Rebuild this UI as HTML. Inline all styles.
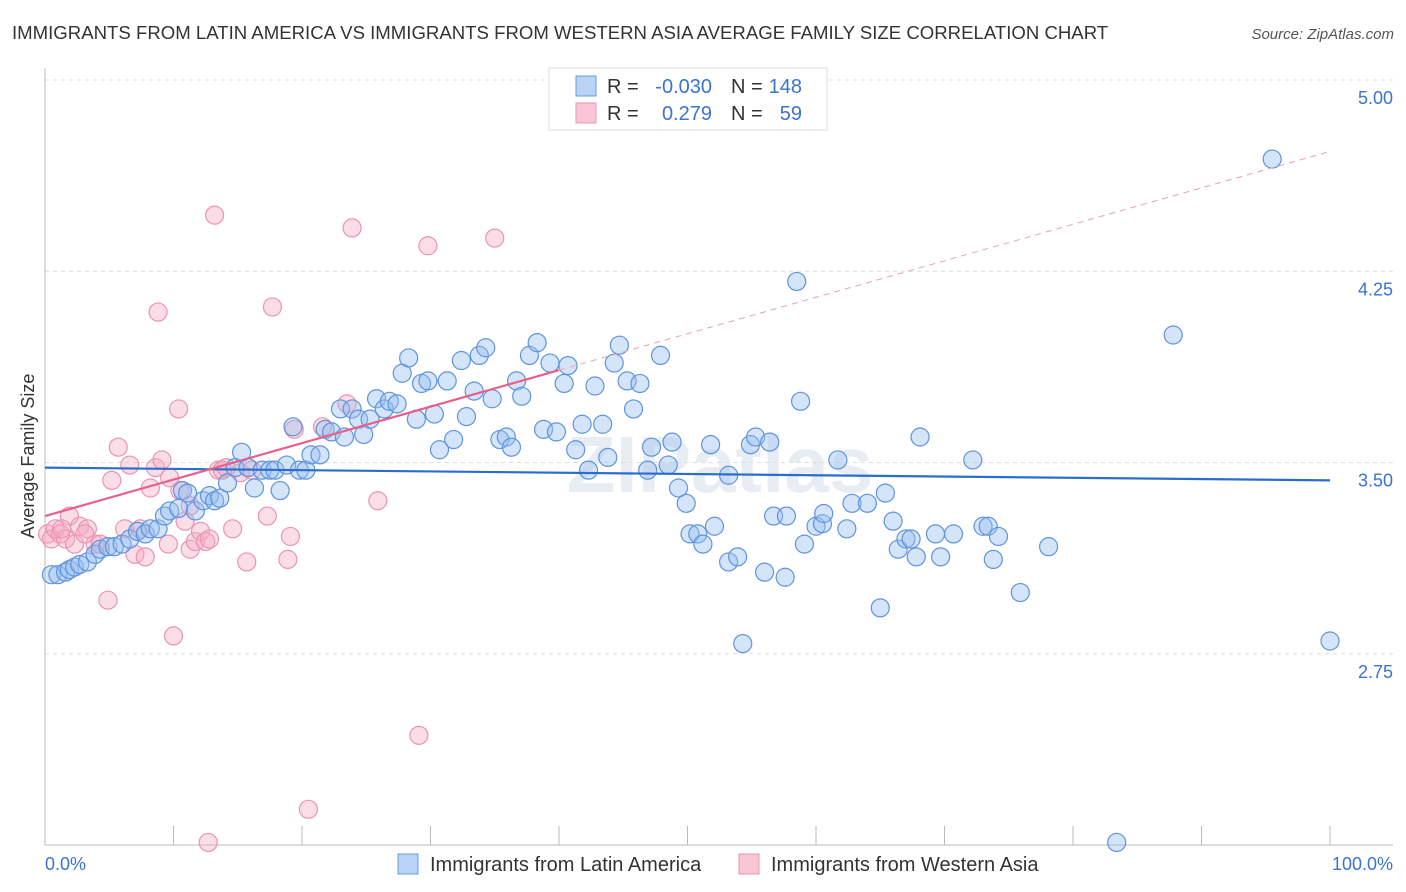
<!DOCTYPE html>
<html><head><meta charset="utf-8"><style>
body{margin:0;background:#fff;font-family:"Liberation Sans",sans-serif}
svg{display:block}
</style></head><body>
<svg id="chart" width="1406" height="892" xmlns="http://www.w3.org/2000/svg" font-family="Liberation Sans, sans-serif">
<text x="12" y="39" font-size="18.6" fill="#333">IMMIGRANTS FROM LATIN AMERICA VS IMMIGRANTS FROM WESTERN ASIA AVERAGE FAMILY SIZE CORRELATION CHART</text>
<text x="1394" y="39" font-size="15" font-style="italic" fill="#555" text-anchor="end">Source: ZipAtlas.com</text>
<text x="720" y="492" font-size="80" font-weight="bold" fill="#e8edf4" text-anchor="middle">ZIPatlas</text>
<g id="grid"></g>
<g id="axes"></g>
<g id="points"></g>
<g id="lines"></g>
<text transform="translate(34,456) rotate(-90)" font-size="18" fill="#333" text-anchor="middle">Average Family Size</text>
<text x="45" y="870" font-size="18" fill="#3b73d1">0.0%</text>
<text x="1393" y="870" font-size="18" fill="#3b73d1" text-anchor="end">100.0%</text>
<g>
<rect x="549" y="68" width="278" height="62" fill="#fff" stroke="#ddd"/>
<rect x="576" y="76" width="20" height="20" fill="#b8d3f5" stroke="#6a9be0"/>
<rect x="576" y="103" width="20" height="20" fill="#f9c6d4" stroke="#ec95b0"/>
<text x="607" y="93" font-size="20" fill="#333">R =</text>
<text x="712" y="93" font-size="20" fill="#3b73d1" text-anchor="end">-0.030</text>
<text x="731" y="93" font-size="20" fill="#333">N =</text>
<text x="802" y="93" font-size="20" fill="#3b73d1" text-anchor="end">148</text>
<text x="607" y="120" font-size="20" fill="#333">R =</text>
<text x="712" y="120" font-size="20" fill="#3b73d1" text-anchor="end">0.279</text>
<text x="731" y="120" font-size="20" fill="#333">N =</text>
<text x="802" y="120" font-size="20" fill="#3b73d1" text-anchor="end">59</text>
</g>
<g>
<rect x="398" y="854" width="20" height="20" fill="#b8d3f5" stroke="#6a9be0"/>
<text x="430" y="871" font-size="20" fill="#333">Immigrants from Latin America</text>
<rect x="739" y="854" width="20" height="20" fill="#f9c6d4" stroke="#ec95b0"/>
<text x="771" y="871" font-size="20" fill="#333">Immigrants from Western Asia</text>
</g>
</svg>
<script>
const yTicks=[5.00,4.25,3.50,2.75];
const yTickLabels=["5.00","4.25","3.50","2.75"];
const xTicks=[0,10,20,30,40,50,60,70,80,90,100];
const blueX=[0.5,1.0,1.6,1.9,2.3,2.7,3.3,3.9,4.3,4.9,5.4,6.0,6.6,7.2,7.8,8.2,8.8,9.3,9.7,10.4,10.7,11.1,11.7,12.3,12.8,13.2,13.6,14.2,14.8,15.3,15.8,16.3,16.9,17.5,17.9,18.3,18.8,19.3,19.8,20.3,20.7,21.4,21.8,22.3,23.0,23.3,23.9,24.4,24.8,25.3,25.8,26.4,26.8,27.4,27.8,28.3,28.9,29.3,29.8,30.3,30.7,31.3,31.8,32.4,32.8,33.4,33.8,34.3,34.8,35.4,35.9,36.3,36.7,37.1,37.7,38.3,38.8,39.3,39.8,40.4,40.7,41.3,41.8,42.3,42.8,43.4,43.8,44.3,44.7,45.3,45.8,46.3,46.9,47.2,47.9,48.5,48.8,49.3,49.9,50.2,50.8,51.2,51.8,52.1,53.2,53.2,53.9,54.3,54.9,55.3,56.0,56.4,56.7,57.7,57.6,58.5,58.8,59.1,60.0,60.5,60.6,61.7,62.4,62.8,64.0,65.0,65.4,66.0,66.4,67.0,67.4,67.8,68.1,69.3,69.7,70.7,72.2,73.0,73.4,73.8,74.2,75.9,78.1,83.4,87.8,95.5,100];
const blueY=[3.06,3.06,3.07,3.08,3.09,3.10,3.11,3.14,3.16,3.17,3.17,3.18,3.20,3.23,3.22,3.24,3.24,3.29,3.31,3.32,3.39,3.38,3.31,3.35,3.37,3.35,3.36,3.42,3.48,3.54,3.48,3.40,3.47,3.47,3.47,3.39,3.49,3.64,3.47,3.47,3.53,3.53,3.63,3.62,3.71,3.60,3.71,3.67,3.61,3.67,3.75,3.71,3.74,3.73,3.85,3.91,3.67,3.81,3.82,3.69,3.55,3.82,3.59,3.90,3.68,3.78,3.92,3.95,3.75,3.59,3.60,3.56,3.82,3.76,3.92,3.97,3.63,3.89,3.62,3.81,3.88,3.55,3.65,3.47,3.80,3.65,3.52,3.89,3.96,3.82,3.71,3.81,3.47,3.56,3.92,3.49,3.58,3.40,3.34,3.22,3.22,3.18,3.57,3.25,3.11,3.45,3.13,2.79,3.57,3.60,3.07,3.58,3.29,3.29,3.05,4.21,3.74,3.18,3.25,3.26,3.30,3.51,3.24,3.34,3.34,2.93,3.38,3.27,3.16,3.20,3.20,3.13,3.60,3.22,3.13,3.22,3.51,3.25,3.25,3.12,3.21,2.99,3.17,2.01,4.00,4.69,2.80];
const pinkX=[0.2,0.5,0.8,1.2,1.6,1.9,2.3,2.7,3.3,3.9,4.3,4.9,5.2,5.7,6.2,6.6,7.0,7.4,7.8,8.2,8.6,8.8,9.1,9.6,10.0,10.4,10.5,10.9,11.3,11.7,12.1,12.5,12.8,13.2,13.5,13.8,14.1,14.6,15.2,15.7,16.1,17.3,17.7,18.9,19.1,19.4,20.5,21.6,23.5,23.9,25.9,29.1,29.8,35.0,12.7,9.7,11.3,3.1,1.3];
const pinkY=[3.22,3.20,3.24,3.22,3.20,3.29,3.18,3.25,3.24,3.18,3.18,2.96,3.43,3.56,3.24,3.49,3.14,3.24,3.13,3.40,3.48,4.09,3.51,3.18,2.82,3.71,3.39,3.27,3.16,3.19,3.23,3.19,3.20,4.47,3.47,3.47,3.48,3.24,3.46,3.11,3.47,3.29,4.11,3.12,3.21,3.63,2.14,3.64,3.73,4.42,3.35,2.43,4.35,4.38,2.01,3.44,3.33,3.22,3.24];
const blueTrend=[3.48,3.43];
const pinkTrend=[3.29,4.72];
const pinkSolidEnd=40;

const NS="http://www.w3.org/2000/svg";
const X0=45,X1=1330,Y5=80,PX=255;
function xs(v){return X0+(X1-X0)*v/100;}
function ys(v){return Y5+(5-v)*PX;}
function mk(tag,attrs,parent){const e=document.createElementNS(NS,tag);for(const k in attrs)e.setAttribute(k,attrs[k]);parent.appendChild(e);return e;}
const grid=document.getElementById('grid'),axes=document.getElementById('axes'),pts=document.getElementById('points'),lines=document.getElementById('lines');
yTicks.forEach((t,i)=>{
 const l=mk('line',{x1:X0,x2:1393,y1:ys(t),y2:ys(t),stroke:'#ddd','stroke-dasharray':'4,4'},grid);
 
 
 const tx=mk('text',{x:1393,y:ys(t)+24,'font-size':18,fill:'#3b73d1','text-anchor':'end'},grid);
 tx.textContent=yTickLabels[i];
 
 
});
const ya=mk('line',{x1:X0,x2:X0,y1:68,y2:845,stroke:'#bbb'},axes);


const xa=mk('line',{x1:X0,x2:1393,y1:845,y2:845,stroke:'#bbb'},axes);


xTicks.forEach(t=>{
 const l=mk('line',{x1:xs(t),x2:xs(t),y1:826,y2:845,stroke:'#bbb'},axes);
 
 
});
pinkX.forEach((x,i)=>{
 const c=mk('circle',{cx:xs(x),cy:ys(pinkY[i]),r:9,fill:'rgba(245,170,195,0.4)',stroke:'#eb94b1','stroke-width':1.2},pts);
 
 
});
blueX.forEach((x,i)=>{
 const c=mk('circle',{cx:xs(x),cy:ys(blueY[i]),r:9,fill:'rgba(150,190,240,0.4)',stroke:'#5e93df','stroke-width':1.2},pts);
 
 
});
const bl=mk('line',{x1:xs(0),x2:xs(100),y1:ys(blueTrend[0]),y2:ys(blueTrend[1]),stroke:'#2a6dd0','stroke-width':2.2},lines);


const pAt=v=>pinkTrend[0]+(pinkTrend[1]-pinkTrend[0])*v/100;
const pd=mk('line',{x1:xs(pinkSolidEnd),x2:xs(100),y1:ys(pAt(pinkSolidEnd)),y2:ys(pAt(100)),stroke:'#e8a0b8','stroke-width':1,'stroke-dasharray':'6,5'},lines);


const ps=mk('line',{x1:xs(0),x2:xs(pinkSolidEnd),y1:ys(pAt(0)),y2:ys(pAt(pinkSolidEnd)),stroke:'#e8608a','stroke-width':2.2},lines);


</script>
</body></html>
